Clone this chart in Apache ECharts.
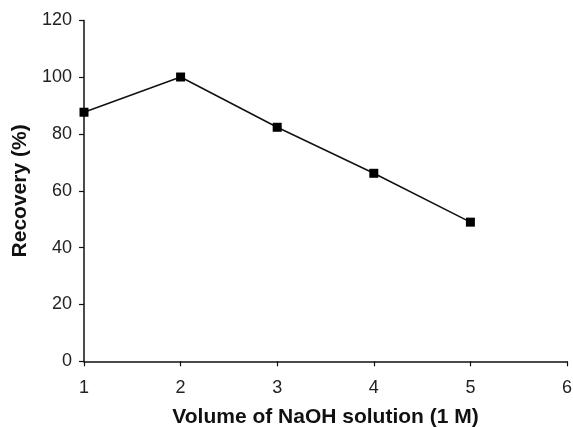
<!DOCTYPE html>
<html>
<head>
<meta charset="utf-8">
<script src="https://cdn.jsdelivr.net/npm/echarts@6/dist/echarts.min.js"></script>
<style>
html, body { margin: 0; padding: 0; background: #fff; }
#chart { width: 573px; height: 427px; }
</style>
</head>
<body>
<div id="chart"></div>
<script>
// data
var volumes = [1, 2, 3, 4, 5];
var recovery = [87.7, 100.1, 82.4, 66.2, 49.0];
var xTicks = [1, 2, 3, 4, 5, 6];
var yTicks = [0, 20, 40, 60, 80, 100, 120];

var points = volumes.map(function (v, i) { return [v, recovery[i]]; });

var chart = echarts.init(document.getElementById('chart'));
var font = 'Liberation Sans, Arial, sans-serif';
chart.setOption({
  animation: false,
  grid: { left: 84, right: 6, top: 20.5, bottom: 65.7, outerBoundsMode: 'none' },
  xAxis: {
    type: 'value',
    min: xTicks[0], max: xTicks[xTicks.length - 1], interval: 1,
    name: 'Volume of NaOH solution (1 M)',
    nameLocation: 'middle', nameGap: 45,
    nameTextStyle: { fontFamily: font, fontSize: 21, fontWeight: 'bold', color: '#111' },
    axisLine: { lineStyle: { color: '#111', width: 1.5 } },
    axisTick: { length: 5, lineStyle: { color: '#111', width: 1.2 } },
    axisLabel: { fontFamily: font, fontSize: 18, color: '#222', margin: 18 },
    splitLine: { show: false }
  },
  yAxis: {
    type: 'value',
    min: yTicks[0], max: yTicks[yTicks.length - 1], interval: 20,
    name: 'Recovery (%)',
    nameLocation: 'middle', nameGap: 52, nameRotate: 90,
    nameTextStyle: { fontFamily: font, fontSize: 21, fontWeight: 'bold', color: '#111' },
    axisLine: { show: true, lineStyle: { color: '#111', width: 1.5 } },
    axisTick: { show: true, length: 5, lineStyle: { color: '#111', width: 1.2 } },
    axisLabel: { fontFamily: font, fontSize: 18, color: '#222', margin: 12 },
    splitLine: { show: false }
  },
  series: [{
    type: 'line',
    data: points,
    symbol: 'rect',
    symbolSize: 9,
    itemStyle: { color: '#000' },
    lineStyle: { color: '#111', width: 1.5 }
  }]
});
</script>
</body>
</html>
